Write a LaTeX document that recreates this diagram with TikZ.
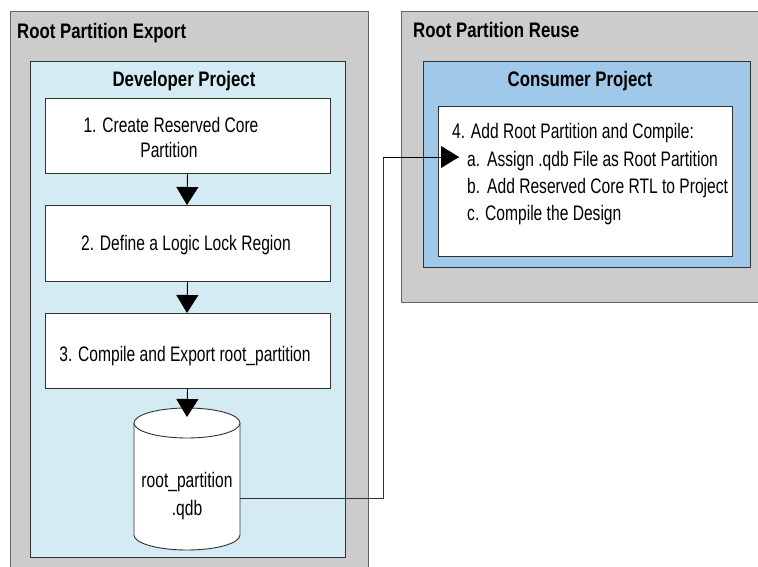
\documentclass[tikz,border=0pt]{standalone}
\usepackage{fontspec}
\setmainfont{Liberation Sans}[FakeStretch=0.743]
\newfontfamily\ttlfont{Liberation Sans}[FakeStretch=0.80]
\usetikzlibrary{arrows.meta}
\definecolor{outergray}{RGB}{204,204,204}
\definecolor{lightblue}{RGB}{212,235,243}
\definecolor{midblue}{RGB}{160,200,232}
\definecolor{edgegray}{RGB}{100,100,100}
\definecolor{edgedark}{RGB}{50,50,50}
\tikzset{
  outerbox/.style={draw=edgegray, fill=outergray, line width=0.9pt},
  projbox/.style={draw=edgedark, line width=0.9pt},
  stepbox/.style={draw=edgedark, fill=white, line width=0.9pt},
  lbl/.style={font=\fontsize{21}{26}\selectfont, inner sep=0pt},
  ttl/.style={font=\ttlfont\fontsize{21}{26}\selectfont\bfseries, inner sep=0pt},
  flow/.style={line width=0.9pt, -{Triangle[length=18pt,width=22pt]}},
  link/.style={draw=edgedark, line width=0.8pt},
}
\begin{document}
\begin{tikzpicture}[x=1pt,y=-1pt]
\useasboundingbox (0,0) rectangle (758,566);
\begin{scope}
\clip (0,0) rectangle (758,566);
% outer boxes
\draw[outerbox] (10,11) rectangle (368,580);
\draw[outerbox] (401,11) rectangle (780,302);
\end{scope}
\node[ttl, anchor=base west] (t1) at (17,38) {Root Partition Export};
\node[ttl, anchor=base west] (t2) at (413,37) {Root Partition Reuse};
% project boxes
\draw[projbox, fill=lightblue] (30,61) rectangle (345,557);
\draw[projbox, fill=midblue] (423,61) rectangle (750,267);
\node[ttl, anchor=base] (dp) at (184,86) {Developer Project};
\node[ttl, anchor=base] (cp) at (580,86) {Consumer Project};
% steps
\node[stepbox, minimum width=285pt, minimum height=75pt] (s1) at (187.5,135.5) {};
\node[stepbox, minimum width=285pt, minimum height=76pt] (s2) at (187.5,243) {};
\node[stepbox, minimum width=285pt, minimum height=75pt] (s3) at (187.5,350.5) {};
\node[lbl, anchor=base] (s1a) at (171,132) {1. Create Reserved Core};
\node[lbl, anchor=base] (s1b) at (169,157) {Partition};
\node[lbl, anchor=base] (s2a) at (186,250) {2. Define a Logic Lock Region};
\node[lbl, anchor=base] (s3a) at (185,361) {3. Compile and Export root\_partition};
% database cylinder
\draw[stepbox] (134,423) -- (134,535) arc[start angle=180, end angle=360, x radius=53pt, y radius=15pt] -- (240,423);
\draw[stepbox] (187,423) ellipse[x radius=53pt, y radius=15pt];
\node[minimum width=106pt, minimum height=142pt, inner sep=0pt] (db) at (187,479) {};
\node[lbl, anchor=base] (dba) at (187,487) {root\_partition};
\node[lbl, anchor=base] (dbb) at (187,515) {.qdb};
% step 4
\node[stepbox, minimum width=294pt, minimum height=150pt] (s4) at (585,181) {};
\node[lbl, anchor=base west] (s4a) at (452,138) {4. Add Root Partition and Compile:};
\node[lbl, anchor=base west] (s4b) at (467,166) {a.};
\node[lbl, anchor=base west] (s4c) at (467,193) {b.};
\node[lbl, anchor=base west] (s4d) at (467,220) {c.};
\node[lbl, anchor=base west] (s4e) at (487,166) {Assign .qdb File as Root Partition};
\node[lbl, anchor=base west] (s4f) at (487,193) {Add Reserved Core RTL to Project};
\node[lbl, anchor=base west] (s4g) at (485,220) {Compile the Design};
% arrows
\coordinate (a2) at (187,205);
\coordinate (a3) at (187,313);
\coordinate (a4) at (187,417);
\draw[flow] (s1.south) -- (a2);
\draw[flow] (s2.south) -- (a3);
\draw[flow] (s3.south) -- (a4);
\coordinate (dbout) at (240,498);
\coordinate (bend1) at (383,498);
\coordinate (bend2) at (383,157);
\coordinate (tip) at (459,157);
\draw[link, line width=0.8pt] (dbout) -- (bend1) -- (bend2) -- (tip);
\draw[flow] (bend2) -- (tip);
\end{tikzpicture}
\end{document}
